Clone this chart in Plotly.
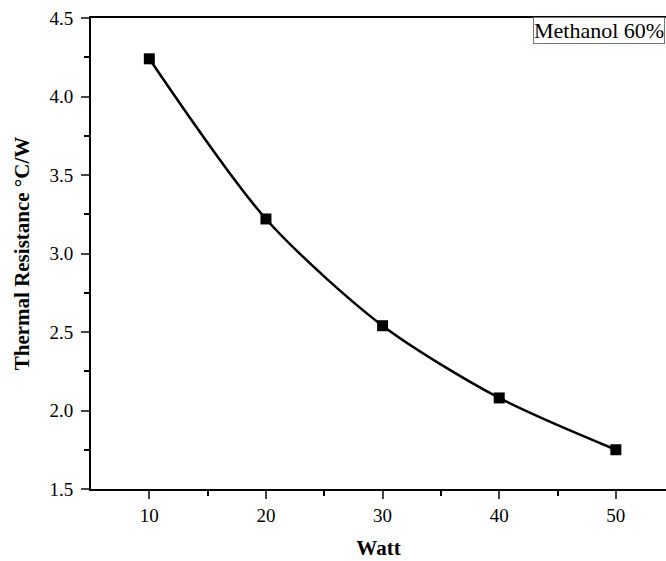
import plotly.graph_objects as go

watt = [10, 20, 30, 40, 50]
resistance = [4.24, 3.22, 2.54, 2.08, 1.75]
x_ticks = [10, 20, 30, 40, 50]
y_ticks = [1.5, 2.0, 2.5, 3.0, 3.5, 4.0, 4.5]
y_tick_labels = ["1.5", "2.0", "2.5", "3.0", "3.5", "4.0", "4.5"]
legend_text = "Methanol 60%"

FONT = "Liberation Serif, Times New Roman, serif"

fig = go.Figure()
fig.add_trace(go.Scatter(
    x=watt, y=resistance, mode="lines+markers",
    line=dict(color="black", width=2.5, shape="spline", smoothing=0.8),
    marker=dict(symbol="square", size=11, color="black"),
    showlegend=False,
))

fig.add_annotation(
    xref="x", yref="y", x=42.9, y=4.42, xanchor="left", yanchor="middle",
    text=legend_text, showarrow=False,
    font=dict(family=FONT, size=22, color="black"),
    bordercolor="#777777", borderwidth=1, borderpad=0, bgcolor="white",
)

fig.update_layout(
    width=666, height=561,
    margin=dict(l=91, r=0, t=18, b=72),
    plot_bgcolor="white", paper_bgcolor="white",
    font=dict(family=FONT, size=19, color="black"),
)
fig.update_xaxes(
    range=[5, 54.3], tickvals=x_ticks, ticks="outside", ticklen=8, tickwidth=2,
    showline=True, linewidth=2, linecolor="black", mirror=True, showgrid=False, zeroline=False,
    minor=dict(tickvals=[15, 25, 35, 45], ticks="outside", ticklen=5, tickwidth=2, tickcolor="black"),
    title=dict(text="<b>Watt</b>", font=dict(family=FONT, size=21), standoff=16),
    tickfont=dict(family=FONT, size=19),
)
fig.update_yaxes(
    range=[1.5, 4.5], tickvals=y_ticks, ticktext=y_tick_labels, ticks="outside", ticklen=8, tickwidth=2,
    showline=True, linewidth=2, linecolor="black", mirror=False, showgrid=False, zeroline=False,
    minor=dict(tickvals=[1.75, 2.25, 2.75, 3.25, 3.75, 4.25], ticks="outside", ticklen=5, tickwidth=2, tickcolor="black"),
    title=dict(text="<b>Thermal Resistance °C/W</b>", font=dict(family=FONT, size=21), standoff=14),
    tickfont=dict(family=FONT, size=19),
    ticklabelstandoff=4,
)

fig.write_html("out.html")
